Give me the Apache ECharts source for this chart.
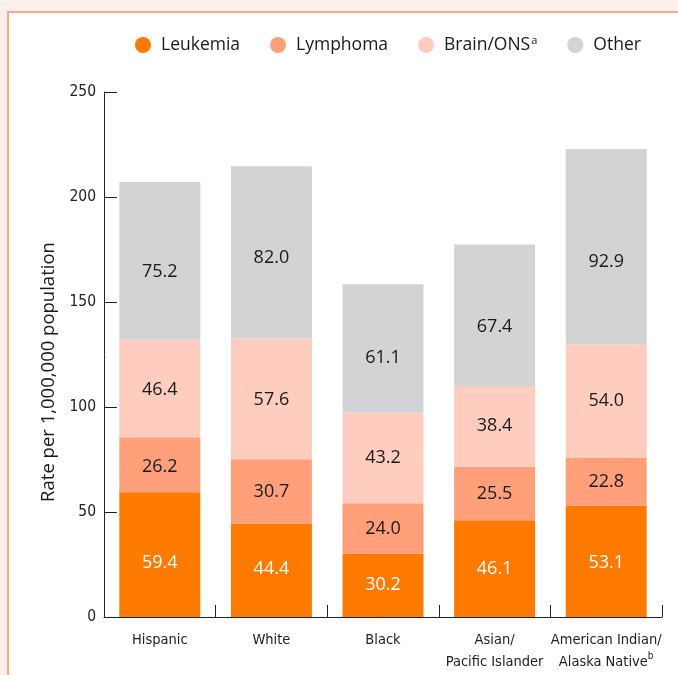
<!DOCTYPE html>
<html>
<head>
<meta charset="utf-8">
<script src="https://cdn.jsdelivr.net/npm/echarts@6/dist/echarts.min.js"></script>
<style>
  html, body { margin: 0; padding: 0; background: #fdf0ec; }
  #frame {
    position: absolute; left: 7px; top: 11px; right: -10px; bottom: -10px;
    background: #ffffff;
    border-left: 2.5px solid #ffa783;
    border-top: 2.5px solid #ffa783;
  }
  #chart { position: absolute; left: 0; top: 0; width: 678px; height: 675px; }
</style>
</head>
<body>
<div id="frame"></div>
<div id="chart"></div>
<script>
// Childhood cancer incidence by race/ethnicity, rate per 1,000,000
const categories = ['Hispanic', 'White', 'Black', 'Asian/\nPacific Islander', 'American Indian/\nAlaska Native'];
const categoryNotes = ['', '', '', '', 'b'];
const seriesNames = ['Leukemia', 'Lymphoma', 'Brain/ONS', 'Other'];
const seriesNotes = ['', '', 'a', ''];
const leukemia = [59.4, 44.4, 30.2, 46.1, 53.1];
const lymphoma = [26.2, 30.7, 24.0, 25.5, 22.8];
const brain = [46.4, 57.6, 43.2, 38.4, 54.0];
const other = [75.2, 82.0, 61.1, 67.4, 92.9];
const yTicks = [0, 50, 100, 150, 200, 250];

const colors = ['#ff7a00', '#ffa07a', '#ffcdbf', '#d2d3d5'];
const labelColors = ['#ffffff', '#1a1a1a', '#1a1a1a', '#1a1a1a'];
const values = [leukemia, lymphoma, brain, other];

// vertical nudges (px) for the in-bar value labels, per series then per category
const labelNudge = [
  [8, -2, 0, 0, 2],
  [2, 0, 0, 0, 0],
  [1, 1, 0, 0, 0],
  [11, 6, 10, 12, 15]
];

const chart = echarts.init(document.getElementById('chart'), null, { renderer: 'canvas' });

const baseFont = '"Open Sans", "Noto Sans", sans-serif';
const narrowFont = '"Liberation Sans Narrow", "DejaVu Sans Condensed", sans-serif';

const option = {
  backgroundColor: 'transparent',
  animation: false,
  textStyle: { fontFamily: baseFont },
  legend: {
    left: 130,
    top: 30,
    icon: 'circle',
    itemWidth: 16,
    itemHeight: 16,
    itemGap: 30,
    data: seriesNames,
    formatter: function (name) {
      const i = seriesNames.indexOf(name);
      return seriesNotes[i] ? '{n|' + name + '}{s|' + seriesNotes[i] + '}' : '{n|' + name + '}';
    },
    textStyle: {
      fontFamily: baseFont,
      color: '#1a1a1a',
      padding: [0, 0, 0, 5],
      rich: {
        n: { fontSize: 17.5, fontFamily: baseFont, color: '#1a1a1a', lineHeight: 20 },
        s: { fontSize: 11, fontFamily: baseFont, color: '#1a1a1a', verticalAlign: 'top', lineHeight: 20, padding: [0, 0, 9, 1] }
      }
    }
  },
  grid: { left: 104, right: 16, top: 92, bottom: 58, containLabel: false },
  xAxis: {
    type: 'category',
    data: categories,
    axisLine: { lineStyle: { color: '#222222', width: 1 } },
    axisTick: { show: true, inside: true, length: 12, alignWithLabel: false, lineStyle: { color: '#222222' } },
    axisLabel: {
      margin: 12,
      interval: 0,
      color: '#222222',
      formatter: function (v, idx) {
        const lines = v.split('\n').map(function (l) { return '{c|' + l + '}'; });
        if (categoryNotes[idx]) lines[lines.length - 1] += '{s|' + categoryNotes[idx] + '}';
        return lines.join('\n');
      },
      rich: {
        c: { fontSize: 14.5, fontFamily: narrowFont, color: '#222222', lineHeight: 22 },
        s: { fontSize: 10, fontFamily: narrowFont, color: '#222222', verticalAlign: 'top', lineHeight: 22, padding: [0, 0, 7, 0] }
      }
    }
  },
  yAxis: {
    type: 'value',
    min: 0,
    max: 250,
    interval: 50,
    axisLine: { show: true, lineStyle: { color: '#222222', width: 1 } },
    axisTick: { show: true, inside: true, length: 13, lineStyle: { color: '#222222' } },
    splitLine: { show: false },
    axisLabel: {
      margin: 8,
      fontSize: 15.5,
      fontFamily: narrowFont,
      color: '#222222',
      formatter: function (v) { return yTicks.indexOf(v) >= 0 ? String(v) : ''; }
    }
  },
  graphic: [{
    type: 'text',
    x: 49,
    y: 372,
    rotation: Math.PI / 2,
    style: {
      text: 'Rate per 1,000,000 population',
      fontSize: 18.5,
      fontFamily: baseFont,
      fill: '#1a1a1a',
      align: 'center',
      verticalAlign: 'middle'
    }
  }],
  series: seriesNames.map(function (name, i) {
    return {
      name: name,
      type: 'bar',
      stack: 'total',
      barWidth: 81,
      data: values[i].map(function (v, j) {
        return { value: v, label: { offset: [0, labelNudge[i][j]] } };
      }),
      itemStyle: { color: colors[i] },
      emphasis: { disabled: true },
      label: {
        show: true,
        position: 'inside',
        fontSize: 18,
        fontFamily: baseFont,
        color: labelColors[i],
        formatter: function (p) { return p.value.toFixed(1); }
      }
    };
  })
};

chart.setOption(option);
</script>
</body>
</html>
